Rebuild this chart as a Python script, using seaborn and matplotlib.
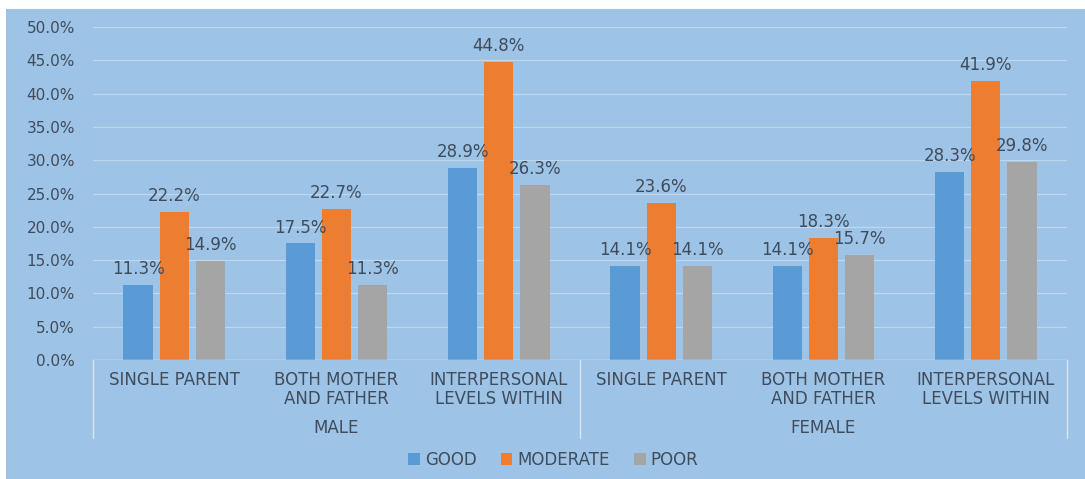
import matplotlib
matplotlib.use("Agg")
import matplotlib.pyplot as plt
import matplotlib.transforms as mtransforms
from matplotlib.patches import Rectangle
import seaborn as sns
import pandas as pd

categories = ["SINGLE PARENT", "BOTH MOTHER\nAND FATHER", "INTERPERSONAL\nLEVELS WITHIN"]
groups = ["MALE", "FEMALE"]
series = ["GOOD", "MODERATE", "POOR"]
good = [11.3, 17.5, 28.9, 14.1, 14.1, 28.3]
moderate = [22.2, 22.7, 44.8, 23.6, 18.3, 41.9]
poor = [14.9, 11.3, 26.3, 14.1, 15.7, 29.8]
yticks = [0, 5, 10, 15, 20, 25, 30, 35, 40, 45, 50]

colors = ["#5B9BD5", "#ED7D31", "#A5A5A5"]
bg = "#9DC3E6"
txt = "#404C5C"

sns.set_theme(style="white")
plt.rcParams["font.family"] = ["DejaVu Sans"]

keys = [f"{g}|{c}" for g in groups for c in categories]
rows = []
for s, vals in zip(series, [good, moderate, poor]):
    for k, v in zip(keys, vals):
        rows.append({"key": k, "series": s, "value": v})
df = pd.DataFrame(rows)

fig = plt.figure(figsize=(10.85, 4.79), dpi=100, facecolor="white")
bgrect = Rectangle((6 / 1085, 0), 1, 1 - 9 / 479, transform=fig.transFigure,
                   facecolor=bg, edgecolor="none", zorder=-10)
fig.add_artist(bgrect)
ax = fig.add_axes([93 / 1085, 1 - 360 / 479, (1067 - 93) / 1085, (360 - 27) / 479])
ax.set_facecolor(bg)

sns.barplot(data=df, x="key", y="value", hue="series", order=keys, hue_order=series,
            palette=colors, width=0.667, gap=0.19, ax=ax, legend=False,
            saturation=1, linewidth=0, zorder=3)

for container in ax.containers:
    for bar in container:
        h = bar.get_height()
        ax.annotate(f"{h:.1f}%", (bar.get_x() + bar.get_width() / 2, h),
                    xytext=(0, 5), textcoords="offset points", ha="center", va="bottom",
                    fontsize=12, color=txt, zorder=5)

ax.set_ylim(0, 50)
ax.set_xlim(-0.5, 5.5)
ax.set_yticks(yticks)
ax.set_yticklabels([f"{t:.1f}%" for t in yticks], fontsize=11, color=txt)
ax.set_xticks(range(6))
ax.set_xticklabels(categories * 2, fontsize=12, color=txt, linespacing=1.05)
ax.tick_params(axis="both", length=0)
ax.tick_params(axis="y", pad=13)
ax.tick_params(axis="x", pad=8)
ax.set_xlabel("")
ax.set_ylabel("")
ax.grid(axis="y", color="#BFD8EE", linewidth=0.9, zorder=0)
ax.set_axisbelow(True)
for sp in ax.spines.values():
    sp.set_visible(False)
ax.axhline(0, color="#D6E6F4", linewidth=1.0, zorder=4)

trans = mtransforms.blended_transform_factory(ax.transData, ax.transAxes)
for xv in [-0.5, 2.5, 5.5]:
    ax.plot([xv, xv], [0, -78 / 333], transform=trans, color="#D6E6F4", linewidth=1.0,
            clip_on=False)
for i, g in enumerate(groups):
    ax.text(1 + 3 * i, -68 / 333, g, transform=trans, ha="center", va="center",
            fontsize=12, color=txt)

handles = [Rectangle((0, 0), 1, 1, facecolor=c, edgecolor="none") for c in colors]
fig.legend(handles, series, loc="center", bbox_to_anchor=(0.51, 1 - 460 / 479), ncol=3,
           frameon=False, fontsize=12, labelcolor=txt, handlelength=0.7, handleheight=0.7,
           handletextpad=0.3, columnspacing=1.45)

fig.savefig("out.png", dpi=100, facecolor="white")
